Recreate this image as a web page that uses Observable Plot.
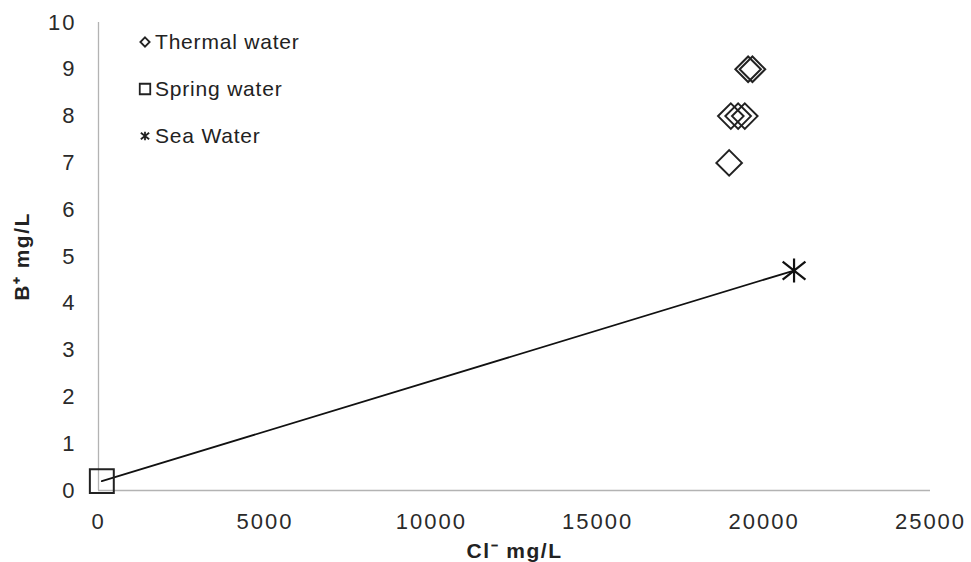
<!DOCTYPE html>
<html>
<head>
<meta charset="utf-8">
<script src="https://cdn.jsdelivr.net/npm/d3@7"></script>
<script src="https://cdn.jsdelivr.net/npm/@observablehq/plot@0.6"></script>
<style>
  html, body { margin: 0; padding: 0; background: #fff; }
  #wrap { position: relative; width: 971px; height: 562px; font-family: "Liberation Sans", Arial, sans-serif; }
  #legend { position: absolute; left: 137px; top: 18px; font-size: 21px; letter-spacing: 0.8px; color: #222; }
  #legend .item { display: flex; align-items: center; height: 47px; }
  #legend svg { margin-right: 2px; }
</style>
</head>
<body>
<div id="wrap"></div>
<script>
// ---- data ----
const thermalCl = [18950, 19000, 19220, 19420, 19520, 19650];
const thermalB  = [7, 8, 8, 8, 9, 9];
const springCl = [100];
const springB  = [0.2];
const seaCl = [20900];
const seaB  = [4.7];
const xTicks = [0, 5000, 10000, 15000, 20000, 25000];
const yTicks = [0, 1, 2, 3, 4, 5, 6, 7, 8, 9, 10];
const seriesNames = ["Thermal water", "Spring water", "Sea Water"];
const xTitle = "Cl\u207B mg/L";
const yTitle = "B\u207A mg/L";

const thermal = thermalCl.map((c, i) => ({cl: c, b: thermalB[i]}));
const spring = springCl.map((c, i) => ({cl: c, b: springB[i]}));
const sea = seaCl.map((c, i) => ({cl: c, b: seaB[i]}));
const mixLine = [...spring, ...sea];

// Excel-like star marker: an X plus a vertical stroke
const excelStar = {
  draw(ctx, size) {
    const s = Math.sqrt(size / Math.PI);
    const w = s * 0.95, h = s * 0.75, v = s;
    ctx.moveTo(-w, -h); ctx.lineTo(w, h);
    ctx.moveTo(-w, h); ctx.lineTo(w, -h);
    ctx.moveTo(0, -v); ctx.lineTo(0, v);
  }
};

const chart = Plot.plot({
  width: 971,
  height: 562,
  marginLeft: 98,
  marginRight: 41,
  marginTop: 22,
  marginBottom: 72,
  style: {fontFamily: "'Liberation Sans', Arial, sans-serif", fontSize: "22px", color: "#2a2a2a", background: "#fff", overflow: "visible"},
  x: {domain: [0, 25000]},
  y: {domain: [0, 10]},
  marks: [
    Plot.ruleX([0], {stroke: "#b3b3b3", strokeWidth: 1.3}),
    Plot.ruleY([0], {stroke: "#b3b3b3", strokeWidth: 1.3}),
    Plot.axisX({ticks: xTicks, tickSize: 0, tickPadding: 23, tickFormat: d => String(d),
      label: xTitle, labelAnchor: "center", labelArrow: "none", labelOffset: 67}),
    Plot.axisY({ticks: yTicks, tickSize: 0, tickPadding: 22, tickFormat: d => String(d),
      label: yTitle, labelAnchor: "center", labelArrow: "none", labelOffset: 84}),
    Plot.line(mixLine, {x: "cl", y: "b", stroke: "#111", strokeWidth: 1.8}),
    Plot.dot(spring, {x: "cl", y: "b", symbol: "square", r: 13.5, stroke: "#222", strokeWidth: 2, fill: "none"}),
    Plot.dot(sea, {x: "cl", y: "b", symbol: excelStar, r: 12, stroke: "#111", strokeWidth: 2.2}),
    Plot.dot(thermal, {x: "cl", y: "b", symbol: "diamond2", r: 11.5, stroke: "#222", strokeWidth: 2, fill: "none"})
  ]
});
// tick label spacing (reference glyphs are wide)
d3.select(chart).selectAll("g[aria-label='x-axis tick label'] text, g[aria-label='y-axis tick label'] text")
  .attr("letter-spacing", "2px");
// bold axis titles
d3.select(chart).selectAll("g[aria-label='x-axis label'] text, g[aria-label='y-axis label'] text")
  .attr("font-weight", "bold").attr("fill", "#222").attr("font-size", "21px").attr("letter-spacing", "1.5px");
document.getElementById("wrap").appendChild(chart);

// legend
const legend = d3.select("#wrap").append("div").attr("id", "legend");
const symbols = [d3.symbolDiamond2, d3.symbolSquare, excelStar];
const symSizes = [55, 110, 60];
seriesNames.forEach((name, i) => {
  const item = legend.append("div").attr("class", "item");
  const s = item.append("svg").attr("width", 16).attr("height", 16).attr("viewBox", "-8 -8 16 16");
  s.append("path").attr("d", d3.symbol(symbols[i], symSizes[i])()).attr("fill", "none").attr("stroke", "#222").attr("stroke-width", 1.8);
  item.append("span").text(name);
});
</script>
</body>
</html>
